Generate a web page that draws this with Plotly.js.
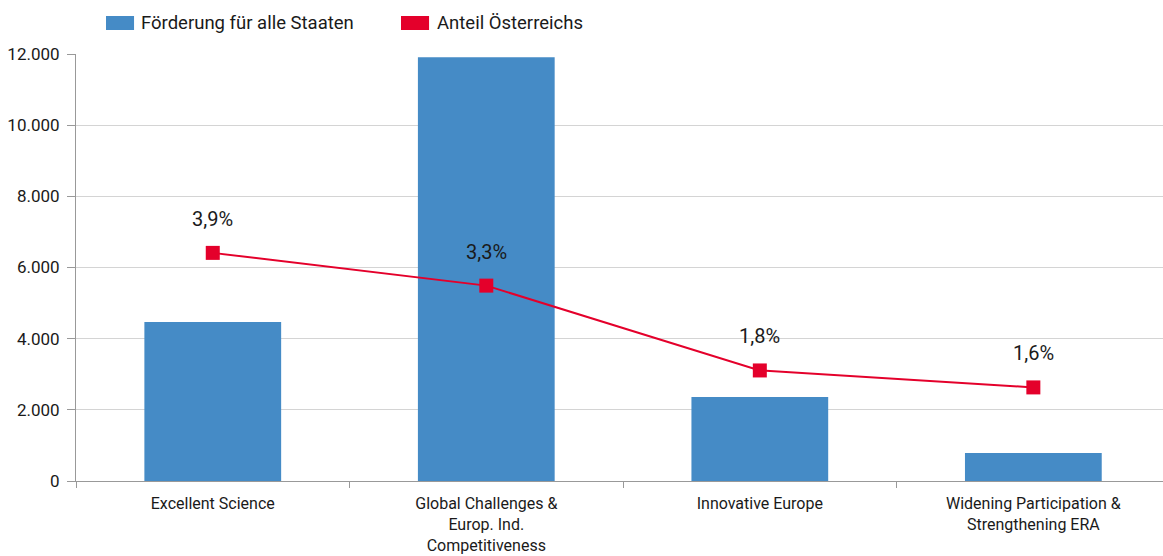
<!DOCTYPE html>
<html>
<head>
<meta charset="utf-8">
<script src="https://cdn.plot.ly/plotly-3.0.1.min.js"></script>
<style>html,body{margin:0;padding:0;background:#fff;}#chart{width:1163px;height:556px;}</style>
</head>
<body>
<div id="chart"></div>
<script>
const categories = [
  "Excellent Science",
  "Global Challenges &<br>Europ. Ind.<br>Competitiveness",
  "Innovative Europe",
  "Widening Participation &<br>Strengthening ERA"
];
const fundingAll = [4470, 11910, 2360, 790];
const shareAustria = [3.9, 3.34, 1.89, 1.6];
const shareLabels = ["3,9%", "3,3%", "1,8%", "1,6%"];
const seriesNames = ["Förderung für alle Staaten", "Anteil Österreichs"];
const seriesColors = ["#458bc6", "#e4002b"];

const FONT = "Roboto, 'Open Sans', sans-serif";
const TEXT = "#1a1a1a";

const traces = [
  {
    type: "bar", name: seriesNames[0], x: categories, y: fundingAll,
    marker: {color: seriesColors[0]}, hoverinfo: "skip"
  },
  {
    type: "scatter", mode: "lines+markers", name: seriesNames[1], x: categories, y: shareAustria,
    yaxis: "y2",
    line: {color: seriesColors[1], width: 2},
    marker: {color: seriesColors[1], symbol: "square", size: 14},
    hoverinfo: "skip"
  }
];

const annotations = shareAustria.map((v, i) => ({
  x: categories[i], y: v, xref: "x", yref: "y2",
  text: shareLabels[i], showarrow: false,
  yanchor: "middle", yshift: 34,
  font: {family: FONT, size: 20, color: TEXT}
}));

// custom legend (wide swatches as in the reference)
const legendX = [0.0276, 0.299];
const legendTextX = [0.0582, 0.3305];
const shapes = [];
seriesNames.forEach((name, i) => {
  shapes.push({
    type: "rect", xref: "paper", yref: "paper",
    x0: legendX[i], x1: legendX[i] + 0.0258, y0: 1.0562, y1: 1.089,
    fillcolor: seriesColors[i], line: {width: 0}
  });
  annotations.push({
    xref: "paper", yref: "paper", x: legendTextX[i], y: 1.0726,
    xanchor: "left", yanchor: "middle", showarrow: false, text: name,
    font: {family: FONT, size: 18.5, color: TEXT}
  });
});

const layout = {
  width: 1163, height: 556,
  margin: {l: 76, r: 0, t: 54, b: 75},
  paper_bgcolor: "#fff", plot_bgcolor: "#fff",
  separators: ",.",
  bargap: 0.5,
  font: {family: FONT, size: 16, color: TEXT},
  showlegend: false,
  xaxis: {
    type: "category", range: [-0.5, 3.474],
    tickson: "boundaries", ticks: "outside", ticklen: 6, tickcolor: "#999",
    showline: true, linecolor: "#999", linewidth: 1,
    showgrid: false, zeroline: false,
    ticklabelstandoff: 8,
    tickfont: {family: FONT, size: 16, color: TEXT}
  },
  yaxis: {
    range: [0, 12000], dtick: 2000, tickformat: ",d",
    showgrid: true, gridcolor: "#d4d4d4", gridwidth: 1,
    showline: true, linecolor: "#999", linewidth: 1,
    ticks: "outside", ticklen: 8, tickcolor: "#999",
    ticklabelstandoff: 4,
    zeroline: false,
    tickfont: {family: FONT, size: 17, color: TEXT}
  },
  yaxis2: {
    overlaying: "y", side: "right", range: [0, 7.3], visible: false
  },
  shapes: shapes,
  annotations: annotations
};

Plotly.newPlot("chart", traces, layout, {staticPlot: true, displayModeBar: false});
</script>
</body>
</html>
